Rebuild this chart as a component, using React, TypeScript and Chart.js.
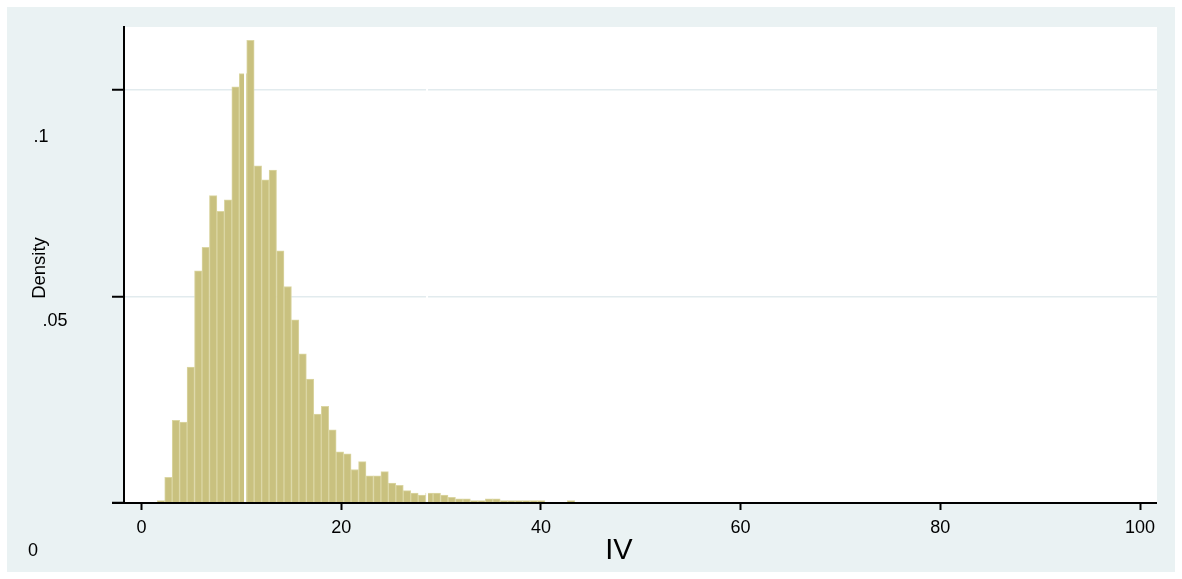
import React, { useEffect, useRef } from 'react';
import { Chart, registerables } from 'chart.js';

Chart.register(...registerables);

// ---- data ----
const BIN_START = 1.58;
const BIN_WIDTH = 0.7466;
const DENSITY = [
  0.0006, 0.0062, 0.02, 0.0196, 0.0329, 0.0562, 0.0619, 0.0744, 0.0706, 0.0734,
  0.1007, 0.1039, 0.112, 0.0816, 0.0782, 0.0806, 0.061, 0.0524, 0.0443, 0.0361,
  0.03, 0.0215, 0.0234, 0.0177, 0.0124, 0.0119, 0.0081, 0.01, 0.0066, 0.0066,
  0.0076, 0.0048, 0.0043, 0.003, 0.0024, 0.0019, 0.0024, 0.0024, 0.0019, 0.0014,
  0.001, 0.001, 0.0006, 0.0006, 0.001, 0.001, 0.0006, 0.0006, 0.0006, 0.0006,
  0.0006, 0.0006, 0, 0, 0, 0.0006,
];
const X_TICKS = [0, 20, 40, 60, 80, 100];
const Y_TICKS = [0, 0.05, 0.1];
const Y_TICK_LABELS = ['0', '.05', '.1'];
const X_TITLE = 'IV';
const Y_TITLE = 'Density';
const GAP_VALUES = [10.37, 28.6];

const FONT = '"Liberation Sans", Arial, Helvetica, sans-serif';

export default function App() {
  const ref = useRef<HTMLCanvasElement | null>(null);

  useEffect(() => {
    if (!ref.current) return;
    const points = DENSITY.map((d, i) => ({ x: BIN_START + (i + 0.5) * BIN_WIDTH, y: d }));

    const decor = {
      id: 'decor',
      beforeDraw(chart: any) {
        const { ctx, chartArea } = chart;
        ctx.save();
        ctx.fillStyle = '#ffffff';
        ctx.fillRect(0, 0, chart.width, chart.height);
        ctx.fillStyle = '#EAF2F3';
        ctx.fillRect(7, 7, 1168, 565);
        ctx.fillStyle = '#ffffff';
        ctx.fillRect(chartArea.left, chartArea.top, chartArea.right - chartArea.left, chartArea.bottom - chartArea.top);
        ctx.restore();
      },
      afterDatasetsDraw(chart: any) {
        const { ctx, chartArea, scales } = chart;
        ctx.save();
        // white separator stripes
        ctx.strokeStyle = '#ffffff';
        ctx.lineWidth = 2;
        GAP_VALUES.forEach((v) => {
          const px = scales.x.getPixelForValue(v);
          ctx.beginPath();
          ctx.moveTo(px, chartArea.top);
          ctx.lineTo(px, chartArea.bottom - 1);
          ctx.stroke();
        });
        // x axis line
        ctx.strokeStyle = '#000000';
        ctx.lineWidth = 2;
        ctx.beginPath();
        ctx.moveTo(chartArea.left - 12, chartArea.bottom);
        ctx.lineTo(chartArea.right, chartArea.bottom);
        ctx.stroke();
        ctx.restore();
      },
      afterDraw(chart: any) {
        const { ctx, scales } = chart;
        ctx.save();
        ctx.fillStyle = '#000000';
        ctx.textAlign = 'center';
        ctx.textBaseline = 'middle';
        ctx.font = `18px ${FONT}`;
        const lx = [33, 55, 41];
        const dy = [48, 25, 47];
        Y_TICKS.forEach((v, i) => {
          const py = scales.y.getPixelForValue(v);
          ctx.fillText(Y_TICK_LABELS[i], lx[i], py + dy[i]);
        });
        ctx.font = `18.5px ${FONT}`;
        ctx.save();
        ctx.translate(40, 268);
        ctx.rotate(-Math.PI / 2);
        ctx.fillText(Y_TITLE, 0, 0);
        ctx.restore();
        ctx.font = `29px ${FONT}`;
        ctx.fillText(X_TITLE, 619, 551);
        ctx.restore();
      },
    };

    const chart = new Chart(ref.current, {
      type: 'bar',
      data: {
        datasets: [
          {
            data: points as any,
            backgroundColor: 'rgb(201,193,127)',
            borderColor: 'rgb(219,214,163)',
            borderWidth: 1,
            barPercentage: 1,
            categoryPercentage: 1,
          },
        ],
      },
      options: {
        animation: false,
        responsive: false,
        maintainAspectRatio: false,
        layout: { padding: { left: 0, top: 27, right: 25, bottom: 0 } },
        plugins: { legend: { display: false }, tooltip: { enabled: false }, title: { display: false } },
        scales: {
          x: {
            type: 'linear',
            offset: false,
            min: -1.75,
            max: 101.7,
            afterBuildTicks: (s: any) => {
              s.ticks = X_TICKS.map((v) => ({ value: v }));
            },
            afterFit: (s: any) => {
              s.height = 76;
            },
            grid: { offset: false, drawOnChartArea: false, drawTicks: true, tickLength: 7, tickColor: '#000', tickWidth: 2 },
            border: { display: false },
            ticks: {
              color: '#000',
              font: { family: FONT, size: 18 },
              padding: 7,
              maxRotation: 0,
              autoSkip: false,
              callback: (v: any) => String(v),
            },
          },
          y: {
            type: 'linear',
            min: 0,
            max: 0.1152,
            afterBuildTicks: (s: any) => {
              s.ticks = Y_TICKS.map((v) => ({ value: v }));
            },
            afterFit: (s: any) => {
              s.width = 124;
            },
            grid: {
              color: (c: any) => (c.tick && c.tick.value === 0 ? 'rgba(0,0,0,0)' : '#E2EBEE'),
              lineWidth: 1.5,
              drawTicks: true,
              tickLength: 12,
              tickColor: '#000',
              tickWidth: 2,
            },
            border: { display: true, color: '#000', width: 2 },
            ticks: { display: false },
          },
        },
      },
      plugins: [decor],
    } as any);

    return () => chart.destroy();
  }, []);

  return (
    <div style={{ position: 'fixed', left: 0, top: 0, width: 1182, height: 579, background: '#fff' }}>
      <canvas ref={ref} width={1182} height={579} style={{ display: 'block', width: 1182, height: 579 }} />
    </div>
  );
}
